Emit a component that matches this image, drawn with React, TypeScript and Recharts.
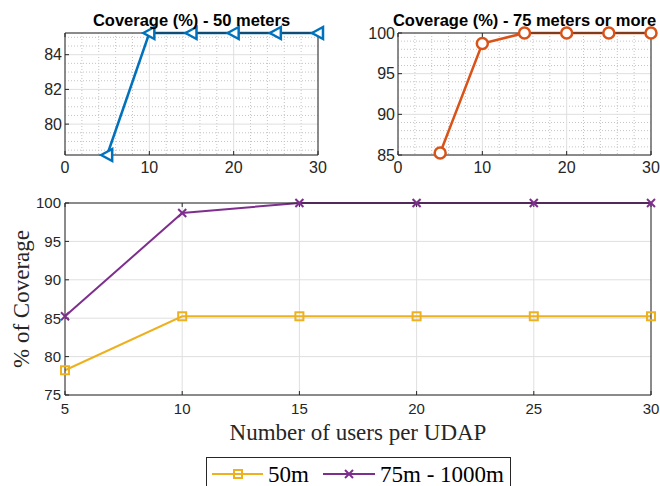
import React from 'react';
import { LineChart, Line, XAxis, YAxis, CartesianGrid } from 'recharts';

const users = [5, 10, 15, 20, 25, 30];
const cov50 = [78.22, 85.25, 85.25, 85.25, 85.25, 85.25];
const cov75 = [85.25, 98.7, 100, 100, 100, 100];
const seriesNames = ['50m', '75m - 1000m'];
const titles = ['Coverage (%) - 50 meters', 'Coverage (%) - 75 meters or more'];
const smallXTicks = [0, 10, 20, 30];
const smallXMinor = [2, 4, 6, 8, 12, 14, 16, 18, 22, 24, 26, 28];
const leftYTicks = [80, 82, 84];
const leftYMinor = [78.5, 79, 79.5, 80.5, 81, 81.5, 82.5, 83, 83.5, 84.5, 85];
const rightYTicks = [85, 90, 95, 100];
const rightYMinor = [86, 87, 88, 89, 91, 92, 93, 94, 96, 97, 98, 99];
const bigXTicks = [5, 10, 15, 20, 25, 30];
const bigYTicks = [75, 80, 85, 90, 95, 100];
const xLabel = 'Number of users per UDAP';
const yLabel = '% of Coverage';

const data = users.map((u, i) => ({ u, a: cov50[i], b: cov75[i] }));

const BLUE = '#0072BD';
const ORANGE = '#D95319';
const YELLOW = '#EDB120';
const PURPLE = '#7E2F8E';
const AX = '#262626';
const GRID = '#dfdfdf';
const MINOR = '#c4c4c4';
const SANS = '"Liberation Sans", Arial, Helvetica, sans-serif';
const SERIF = '"Liberation Serif", "Times New Roman", serif';

const TriDot = (p: any) => {
  const { cx, cy, index } = p;
  if (cx == null || cy == null) return <g key={`t${index}`} />;
  return (
    <polygon
      key={`t${index}`}
      points={`${cx - 6},${cy} ${cx + 5},${cy - 6} ${cx + 5},${cy + 6}`}
      fill="#fff"
      stroke={BLUE}
      strokeWidth={2.5}
    />
  );
};
const CircDot = (p: any) => {
  const { cx, cy, index } = p;
  if (cx == null || cy == null) return <g key={`c${index}`} />;
  return <circle key={`c${index}`} cx={cx} cy={cy} r={5.5} fill="#fff" stroke={ORANGE} strokeWidth={2.5} />;
};
const SqDot = (p: any) => {
  const { cx, cy, index } = p;
  if (cx == null || cy == null) return <g key={`s${index}`} />;
  return <rect key={`s${index}`} x={cx - 4} y={cy - 4} width={8} height={8} fill="none" stroke={YELLOW} strokeWidth={2} />;
};
const XDot = (p: any) => {
  const { cx, cy, index } = p;
  if (cx == null || cy == null) return <g key={`x${index}`} />;
  return (
    <g key={`x${index}`} stroke={PURPLE} strokeWidth={2}>
      <line x1={cx - 4} y1={cy - 4} x2={cx + 4} y2={cy + 4} />
      <line x1={cx - 4} y1={cy + 4} x2={cx + 4} y2={cy - 4} />
    </g>
  );
};

const applyScale = (s: any, v: number): number | null => {
  if (typeof s === 'function') return s(v);
  if (s && typeof s.map === 'function') return s.map(v);
  if (s && typeof s.scale === 'function') return s.scale(v);
  return null;
};

const minorV = (vals: number[], dom: [number, number]) => (props: any) => {
  const s = props?.xAxis?.scale;
  const off = props?.offset || {};
  return vals.map((v) => {
    const r = applyScale(s, v);
    if (r != null && !Number.isNaN(r)) return r;
    return off.left + ((v - dom[0]) / (dom[1] - dom[0])) * off.width;
  });
};
const minorH = (vals: number[], dom: [number, number]) => (props: any) => {
  const s = props?.yAxis?.scale;
  const off = props?.offset || {};
  return vals.map((v) => {
    const r = applyScale(s, v);
    if (r != null && !Number.isNaN(r)) return r;
    return off.top + (1 - (v - dom[0]) / (dom[1] - dom[0])) * off.height;
  });
};

const empty = () => '';

function SmallChart(props: {
  left: number;
  title: string;
  yDomain: [number, number];
  yTicks: number[];
  yMinor: number[];
  dataKey: string;
  color: string;
  dot: any;
}) {
  const { left, title, yDomain, yTicks, yMinor, dataKey, color, dot } = props;
  const tickStyle = { fill: AX, fontSize: 16, fontFamily: SANS };
  return (
    <div style={{ position: 'absolute', left, top: 0, width: 340, height: 190 }}>
      <LineChart width={340} height={190} data={data} margin={{ top: 32, right: 21, bottom: 10, left: 25 }}>
        <CartesianGrid
          stroke={MINOR}
          strokeDasharray="1 2"
          verticalCoordinatesGenerator={minorV(smallXMinor, [0, 30])}
          horizontalCoordinatesGenerator={minorH(yMinor, yDomain)}
        />
        <CartesianGrid stroke={GRID} strokeWidth={1} />
        <XAxis
          dataKey="u"
          type="number"
          domain={[0, 30]}
          ticks={smallXTicks}
          height={25}
          tickSize={-4}
          tickMargin={11}
          stroke={AX}
          tick={tickStyle}
          interval={0}
        />
        <XAxis
          xAxisId="top"
          dataKey="u"
          type="number"
          orientation="top"
          domain={[0, 30]}
          ticks={smallXTicks}
          height={1}
          tickSize={-4}
          tickFormatter={empty}
          stroke={AX}
        />
        <YAxis
          type="number"
          domain={yDomain}
          ticks={yTicks}
          width={40}
          tickSize={-4}
          tickMargin={7}
          stroke={AX}
          tick={tickStyle}
          interval={0}
        />
        <YAxis
          yAxisId="r"
          type="number"
          orientation="right"
          domain={yDomain}
          ticks={yTicks}
          width={1}
          tickSize={-4}
          tickFormatter={empty}
          stroke={AX}
        />
        <Line
          dataKey={dataKey}
          stroke={color}
          strokeWidth={2.5}
          dot={dot}
          activeDot={false}
          isAnimationActive={false}
          type="linear"
        />
      </LineChart>
      <div
        style={{
          position: 'absolute',
          left: 191.5,
          top: 8,
          transform: 'translateX(-50%)',
          fontFamily: SANS,
          fontWeight: 'bold',
          fontSize: 16.5,
          color: '#000',
          whiteSpace: 'nowrap',
          lineHeight: '24px',
        }}
      >
        {title}
      </div>
    </div>
  );
}

function Legend() {
  return (
    <div
      style={{
        position: 'absolute',
        left: 206,
        top: 457,
        width: 305,
        height: 34,
        border: `1px solid ${AX}`,
        background: '#fff',
        boxSizing: 'border-box',
      }}
    >
      <svg width={305} height={34} style={{ position: 'absolute', left: -1, top: -1 }}>
        <line x1={6} y1={17} x2={57} y2={17} stroke={YELLOW} strokeWidth={2} />
        <rect x={28} y={13} width={8} height={8} fill="none" stroke={YELLOW} strokeWidth={2} />
        <text x={62} y={25} fontFamily={SERIF} fontSize={23} fill="#000">{seriesNames[0]}</text>
        <line x1={117} y1={17} x2={169} y2={17} stroke={PURPLE} strokeWidth={2} />
        <g stroke={PURPLE} strokeWidth={2}>
          <line x1={139} y1={13} x2={147} y2={21} />
          <line x1={139} y1={21} x2={147} y2={13} />
        </g>
        <text x={174} y={25} fontFamily={SERIF} fontSize={23} fill="#000">{seriesNames[1]}</text>
      </svg>
    </div>
  );
}

export default function App() {
  const tickStyle = { fill: AX, fontSize: 15, fontFamily: SANS };
  return (
    <div style={{ position: 'absolute', left: 0, top: 0, width: 660, height: 486, background: '#fff', overflow: 'hidden' }}>
      <SmallChart
        left={0}
        title={titles[0]}
        yDomain={[78.22, 85.25]}
        yTicks={leftYTicks}
        yMinor={leftYMinor}
        dataKey="a"
        color={BLUE}
        dot={TriDot}
      />
      <SmallChart
        left={333}
        title={titles[1]}
        yDomain={[85, 100]}
        yTicks={rightYTicks}
        yMinor={rightYMinor}
        dataKey="b"
        color={ORANGE}
        dot={CircDot}
      />
      <div style={{ position: 'absolute', left: 0, top: 190, width: 660, height: 240 }}>
        <LineChart width={660} height={240} data={data} margin={{ top: 12, right: 8, bottom: 10, left: 25 }}>
          <CartesianGrid stroke={GRID} strokeWidth={1} />
          <XAxis
            dataKey="u"
            type="number"
            domain={[5, 30]}
            ticks={bigXTicks}
            height={25}
            tickSize={-4}
            tickMargin={12}
            stroke={AX}
            tick={tickStyle}
            interval={0}
          />
          <XAxis
            xAxisId="top"
            dataKey="u"
            type="number"
            orientation="top"
            domain={[5, 30]}
            ticks={bigXTicks}
            height={1}
            tickSize={-4}
            tickFormatter={empty}
            stroke={AX}
          />
          <YAxis
            type="number"
            domain={[75, 100]}
            ticks={bigYTicks}
            width={40}
            tickSize={-4}
            tickMargin={8}
            stroke={AX}
            tick={tickStyle}
            interval={0}
          />
          <YAxis
            yAxisId="r"
            type="number"
            orientation="right"
            domain={[75, 100]}
            ticks={bigYTicks}
            width={1}
            tickSize={-4}
            tickFormatter={empty}
            stroke={AX}
          />
          <Line dataKey="a" name={seriesNames[0]} stroke={YELLOW} strokeWidth={2} dot={SqDot} activeDot={false} isAnimationActive={false} type="linear" />
          <Line dataKey="b" name={seriesNames[1]} stroke={PURPLE} strokeWidth={2} dot={XDot} activeDot={false} isAnimationActive={false} type="linear" />
        </LineChart>
      </div>
      <div
        style={{
          position: 'absolute',
          left: 358,
          top: 419,
          transform: 'translateX(-50%)',
          fontFamily: SERIF,
          fontSize: 23,
          color: '#262626',
          whiteSpace: 'nowrap',
          lineHeight: '28px',
        }}
      >
        {xLabel}
      </div>
      <div
        style={{
          position: 'absolute',
          left: 22,
          top: 299,
          transform: 'translate(-50%, -50%) rotate(-90deg)',
          fontFamily: SERIF,
          fontSize: 23,
          color: '#262626',
          whiteSpace: 'nowrap',
          lineHeight: '28px',
        }}
      >
        {yLabel}
      </div>
      <Legend />
    </div>
  );
}
